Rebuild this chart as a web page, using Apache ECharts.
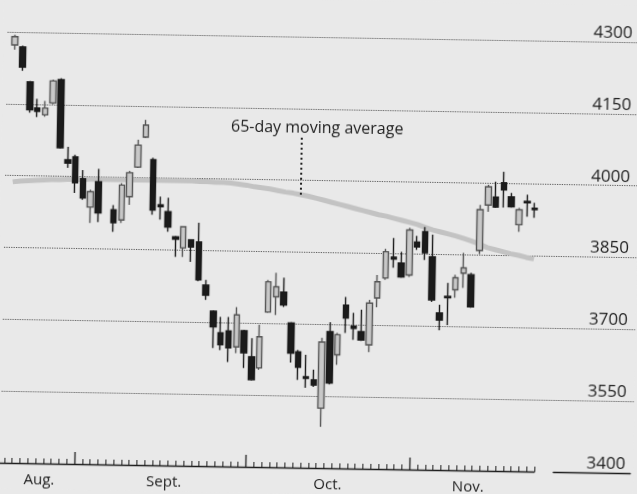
<!DOCTYPE html>
<html>
<head>
<meta charset="utf-8">
<script src="https://cdn.jsdelivr.net/npm/echarts@6/dist/echarts.min.js"></script>
<style>
  html, body { margin: 0; padding: 0; background: #e9e9e9; overflow: hidden; }
  /* the scanned chart is tilted a little clockwise */
  #chart { width: 637px; height: 494px; transform: rotate(0.95deg); transform-origin: 50% 50%; }
</style>
</head>
<body>
<div id="chart"></div>
<script>
// month names and where they sit on the day axis (slot 0 is the empty lead-in)
var months = ['Aug.', 'Sept.', 'Oct.', 'Nov.'];
var monthLabelSlot = [5, 21, 42, 60];
var monthStartSlot = [10, 32, 53];
var yTicks = [3400, 3550, 3700, 3850, 4000, 4150, 4300];

// daily candles (null = no candle that day)
var opens = [4273, 4269, 4196, 4142, 4128, 4153, 4202, 4035, 4041, 3996,
  3937, 3990, null, 3932, 3911, 3960, 4022, 4085, 4038, 3944,
  3930, 3878, 3855, 3872, 3868, 3778, 3724, 3679, 3683, 3650,
  3684, 3630, 3607, 3724, 3756, 3766, 3702, 3642, 3590, 3584,
  3525, 3685, 3637, 3741, 3697, 3686, 3659, 3757, 3799, 3843,
  3831, 3806, 3875, 3897, 3845, 3728, 3763, 3777, 3812, 3809,
  3860, 3955, 3972, 4002, 3973, 3915, 3964, 3950];
var closes = [4290, 4227, 4138, 4135, 4142, 4199, 4060, 4028, 3987, 3956,
  3969, 3925, null, 3905, 3984, 4010, 4068, 4110, 3933, 3940,
  3898, 3873, 3899, 3857, 3789, 3757, 3691, 3654, 3648, 3717,
  3638, 3582, 3672, 3787, 3777, 3739, 3639, 3610, 3587, 3573,
  3663, 3578, 3679, 3714, 3693, 3669, 3746, 3791, 3854, 3839,
  3802, 3900, 3865, 3853, 3755, 3713, 3760, 3802, 3823, 3742,
  3945, 3993, 3951, 3987, 3952, 3946, 3961, 3947];
var lows = [4263, 4219, 4132, 4123, 4124, 4150, 4058, 4018, 3966, 3952,
  3904, 3906, null, 3886, 3905, 3943, 4020, 4083, 3923, 3913,
  3888, 3836, 3836, 3826, 3786, 3747, 3647, 3643, 3618, 3637,
  3606, 3580, 3603, 3722, 3718, 3735, 3619, 3583, 3567, 3569,
  3486, 3575, 3616, 3683, 3669, 3667, 3644, 3738, 3795, 3821,
  3800, 3802, 3859, 3838, 3751, 3692, 3703, 3760, 3781, 3740,
  3852, 3941, 3949, 3950, 3950, 3900, 3932, 3930];
var highs = [4294, 4272, 4198, 4161, 4157, 4202, 4205, 4062, 4046, 4014,
  3973, 4017, null, 3942, 3988, 4014, 4079, 4121, 4042, 3961,
  3959, 3880, 3900, 3873, 3908, 3789, 3726, 3712, 3712, 3733,
  3686, 3669, 3697, 3791, 3806, 3796, 3704, 3646, 3636, 3605,
  3672, 3705, 3683, 3758, 3725, 3732, 3753, 3805, 3860, 3883,
  3854, 3905, 3888, 3907, 3891, 3745, 3791, 3808, 3854, 3813,
  3955, 3997, 4004, 4025, 3981, 3950, 3978, 3961];

// 65-day moving average, one reading per candle
var ma65 = [3987, 3989, 3990, 3991, 3992, 3993, 3993, 3994, 3994, 3994,
  3995, 3995, 3995, 3995, 3995, 3995, 3995, 3995, 3995, 3995,
  3995, 3995, 3995, 3995, 3994, 3994, 3993, 3993, 3992, 3990,
  3988, 3985, 3983, 3981, 3978, 3975, 3973, 3970, 3967, 3963,
  3959, 3955, 3951, 3947, 3943, 3939, 3935, 3931, 3928, 3924,
  3920, 3916, 3912, 3906, 3901, 3897, 3893, 3889, 3884, 3879,
  3873, 3866, 3862, 3858, 3854, 3851, 3847, 3844];

var noteText = '65-day moving average';
var noteSlot = 38;
var noteTop = 4089;
var noteBottom = 3965;

var days = ['0'];
var candleData = ['-'];
var maData = ['-'];
for (var i = 0; i < opens.length; i++) {
  days.push(String(i + 1));
  if (opens[i] == null) {
    candleData.push('-');
  } else {
    candleData.push([opens[i], closes[i], lows[i], highs[i]]);
  }
  maData.push(ma65[i]);
}
// day boundaries, used only for the taller month ticks
var edges = [];
for (var j = 0; j <= days.length; j++) {
  edges.push('e' + j);
}

var yMin = yTicks[0];
var yMax = yTicks[yTicks.length - 1];
var yStep = yTicks[1] - yTicks[0];
var ink = '#1e1e1e';

var chart = echarts.init(document.getElementById('chart'), null, {renderer: 'canvas'});
chart.setOption({
  backgroundColor: '#e9e9e9',
  animation: false,
  textStyle: {fontFamily: 'Open Sans'},
  grid: [
    {left: 0, top: 37, width: 538, height: 431},
    {left: 4, top: 37, right: 0, height: 431},
    {left: 557, top: 37, width: 77, height: 431}
  ],
  xAxis: [
    {
      gridIndex: 0, type: 'category', position: 'bottom', data: days, boundaryGap: true,
      axisLine: {show: true, lineStyle: {color: ink, width: 1.3}},
      axisTick: {show: true, inside: true, length: 5, interval: 0, lineStyle: {color: ink, width: 1}},
      axisLabel: {
        interval: function (idx) { return monthLabelSlot.indexOf(idx) >= 0; },
        formatter: function (v, idx) {
          var m = monthLabelSlot.indexOf(idx);
          return m >= 0 ? months[m] : '';
        },
        margin: 9, fontSize: 15, color: ink, fontFamily: 'Open Sans'
      },
      splitLine: {show: false}
    },
    {
      gridIndex: 0, type: 'category', position: 'bottom', data: edges, boundaryGap: false,
      axisLine: {show: false},
      axisTick: {
        show: true, inside: true, length: 12,
        interval: function (idx) { return monthStartSlot.indexOf(idx) >= 0; },
        lineStyle: {color: ink, width: 1.3}
      },
      axisLabel: {show: false},
      splitLine: {show: false}
    },
    {gridIndex: 1, type: 'value', min: 0, max: 1, show: false},
    {
      gridIndex: 2, type: 'value', position: 'bottom', min: 0, max: 1,
      axisLine: {show: true, lineStyle: {color: ink, width: 1.3}},
      axisTick: {show: false}, axisLabel: {show: false}, splitLine: {show: false}
    }
  ],
  yAxis: [
    {gridIndex: 0, type: 'value', min: yMin, max: yMax, show: false},
    {
      gridIndex: 1, type: 'value', position: 'right',
      min: yMin, max: yMax, interval: yStep,
      axisLine: {show: false}, axisTick: {show: false},
      splitLine: {show: true, showMinLine: false, lineStyle: {type: 'dotted', color: '#555', width: 1.2}},
      axisLabel: {
        inside: true, margin: 8, fontSize: 17, color: ink,
        verticalAlign: 'bottom', lineHeight: 18, fontFamily: 'Open Sans',
        formatter: function (v) { return String(v); }
      }
    },
    {gridIndex: 2, type: 'value', min: 0, max: 1, show: false}
  ],
  series: [
    {
      name: 'MA65', type: 'line', xAxisIndex: 0, yAxisIndex: 0,
      data: maData, symbol: 'none', showSymbol: false, silent: true, z: 2,
      lineStyle: {color: '#c3c3c3', width: 5},
      markLine: {
        silent: true, symbol: ['none', 'none'],
        lineStyle: {type: [2, 3], color: '#222', width: 2},
        label: {
          show: true, position: 'start', formatter: noteText,
          fontSize: 16, color: ink, fontFamily: 'Open Sans',
          padding: [0, 0, 0, 30], distance: 2
        },
        data: [[{coord: [noteSlot, noteTop]}, {coord: [noteSlot, noteBottom]}]]
      }
    },
    {
      name: 'Index', type: 'candlestick', xAxisIndex: 0, yAxisIndex: 0,
      data: candleData, barWidth: 6, z: 3,
      itemStyle: {
        color: '#c8c8c8', color0: '#1b1b1b',
        borderColor: '#555', borderColor0: '#1b1b1b',
        borderWidth: 1.4
      }
    }
  ]
});
</script>
</body>
</html>
